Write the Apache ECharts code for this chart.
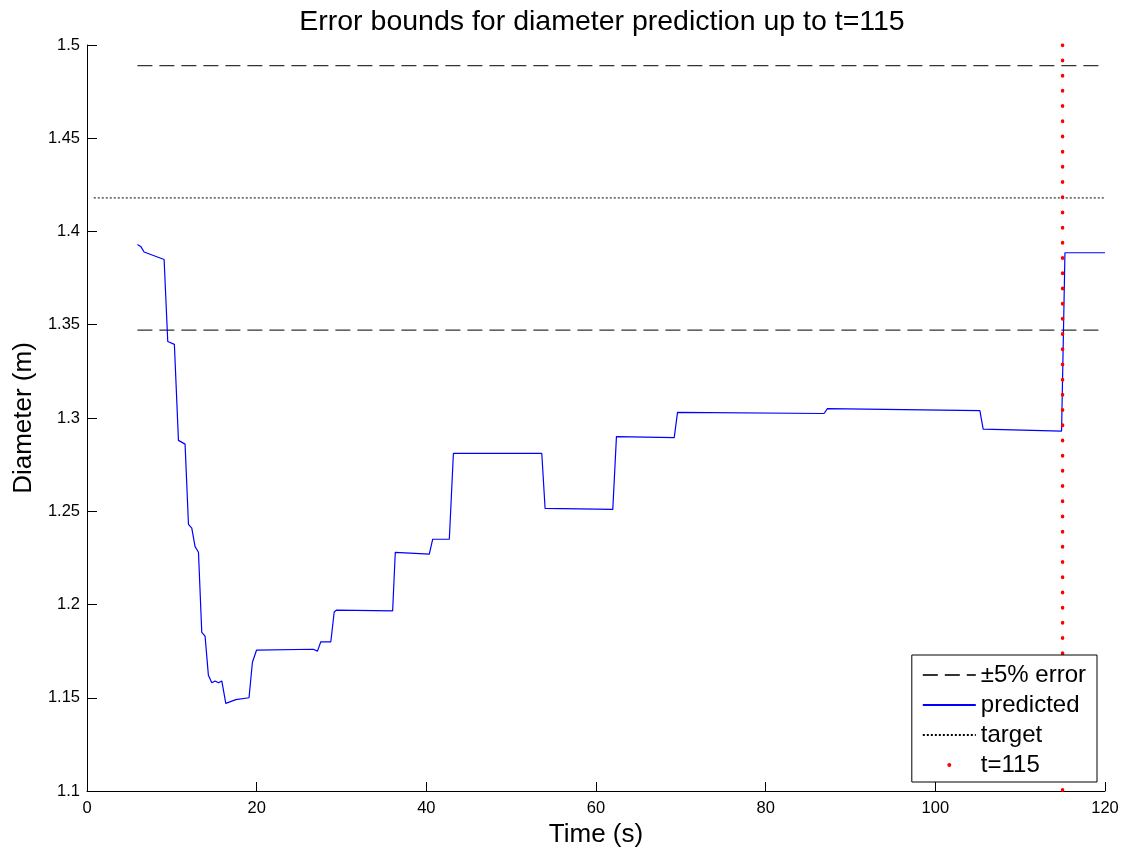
<!DOCTYPE html>
<html>
<head>
<meta charset="utf-8">
<script src="https://cdn.jsdelivr.net/npm/echarts@6/dist/echarts.min.js"></script>
<style>
  html, body { margin: 0; padding: 0; background: #fff; }
  #chart { width: 1125px; height: 854px; }
</style>
</head>
<body>
<div id="chart"></div>
<script>
// Predicted diameter over time (s, m)
const predTime = [5.94, 6.33, 6.73, 9.09, 9.52, 10.3, 10.78, 11.56, 11.96, 12.35, 12.74, 13.14,
  13.53, 13.92, 14.31, 14.71, 15.1, 15.5, 15.89, 16.36, 17.54, 19.1, 19.5, 19.98, 26.67, 27.17,
  27.56, 28.74, 29.14, 29.42, 36.03, 36.34, 40.35, 40.75, 42.71, 43.19, 53.61, 54.0, 61.98, 62.41,
  69.22, 69.61, 86.88, 87.28, 105.25, 105.64, 114.88, 115.28, 120];
const predDiameter = [1.393, 1.392, 1.389, 1.385, 1.341, 1.3395, 1.288, 1.286, 1.243, 1.241, 1.231, 1.228,
  1.185, 1.183, 1.162, 1.158, 1.159, 1.158, 1.159, 1.147, 1.149, 1.150, 1.169, 1.1755, 1.176, 1.175,
  1.180, 1.180, 1.196, 1.197, 1.1966, 1.228, 1.227, 1.235, 1.235, 1.281, 1.281, 1.2515, 1.251, 1.290,
  1.2895, 1.303, 1.3024, 1.305, 1.304, 1.294, 1.293, 1.3886, 1.3886];

// Target diameter and the ±5% band
const targetDiameter = 1.418;
const errorFraction = 0.05;
const boundSpan = [5.94, 120];
const targetSpan = [0.8, 120];
const cutoffTime = 115;

// Axis settings
const xTicks = { min: 0, max: 120, interval: 20 };
const yTicks = { min: 1.1, max: 1.5, interval: 0.05 };

const legendNames = ['±5% error', 'predicted', 'target', 't=115'];
const titleText = 'Error bounds for diameter prediction up to t=115';

const FONT = '"Liberation Sans", Arial, Helvetica, sans-serif';

const upper = targetDiameter * (1 + errorFraction);
const lower = targetDiameter * (1 - errorFraction);
const predData = predTime.map((t, i) => [t, predDiameter[i]]);

const chart = echarts.init(document.getElementById('chart'), null, { renderer: 'canvas' });

const dashStyle = { color: '#333', width: 1.3, type: [15, 7] };
// line-only legend swatches: hide the marker drawn in the middle
const noMarker = { opacity: 0 };

chart.setOption({
  animation: false,
  backgroundColor: '#fff',
  textStyle: { fontFamily: FONT },
  title: {
    text: titleText,
    left: 597,
    top: 3,
    textAlign: 'center',
    textStyle: { fontFamily: FONT, fontSize: 28.5, fontWeight: 'normal', color: '#000' }
  },
  grid: { left: 87, right: 20, top: 45, bottom: 63, containLabel: false },
  xAxis: {
    type: 'value',
    min: xTicks.min, max: xTicks.max, interval: xTicks.interval,
    name: 'Time (s)',
    nameLocation: 'middle',
    nameGap: 25,
    nameTextStyle: { fontFamily: FONT, fontSize: 26, color: '#000' },
    axisLine: { show: true, onZero: false, lineStyle: { color: '#000', width: 1 } },
    axisTick: { show: true, inside: true, length: 9, lineStyle: { color: '#000' } },
    axisLabel: { fontFamily: FONT, fontSize: 16.5, color: '#000', margin: 9 },
    splitLine: { show: false }
  },
  yAxis: {
    type: 'value',
    min: yTicks.min, max: yTicks.max, interval: yTicks.interval,
    name: 'Diameter (m)',
    nameLocation: 'middle',
    nameGap: 44,
    nameTextStyle: { fontFamily: FONT, fontSize: 26, color: '#000' },
    axisLine: { show: true, onZero: false, lineStyle: { color: '#000', width: 1 } },
    axisTick: { show: true, inside: true, length: 10, lineStyle: { color: '#000' } },
    axisLabel: { fontFamily: FONT, fontSize: 16.5, color: '#000', margin: 7 },
    splitLine: { show: false }
  },
  legend: {
    orient: 'vertical',
    right: 28,
    bottom: 72,
    z: 20,
    data: [
      { name: legendNames[0], itemStyle: noMarker },
      { name: legendNames[1], itemStyle: noMarker },
      { name: legendNames[2], itemStyle: noMarker },
      { name: legendNames[3], icon: 'circle' }
    ],
    itemWidth: 53,
    itemHeight: 4,
    itemGap: 6,
    padding: [8, 11, 5, 10],
    backgroundColor: '#fff',
    borderColor: '#000',
    borderWidth: 1,
    borderRadius: 0,
    selectedMode: false,
    textStyle: { fontFamily: FONT, fontSize: 24, color: '#000' }
  },
  series: [
    {
      name: legendNames[0], type: 'line', symbol: 'none', silent: true,
      data: [[boundSpan[0], upper], [boundSpan[1], upper]],
      lineStyle: dashStyle, itemStyle: { color: '#333' }, z: 2
    },
    {
      name: legendNames[0], type: 'line', symbol: 'none', silent: true,
      data: [[boundSpan[0], lower], [boundSpan[1], lower]],
      lineStyle: dashStyle, itemStyle: { color: '#333' }, z: 2
    },
    {
      name: legendNames[1], type: 'line', symbol: 'none', silent: true,
      data: predData,
      lineStyle: { color: '#0000ff', width: 1.2 }, itemStyle: { color: '#0000ff' }, z: 3
    },
    {
      name: legendNames[2], type: 'line', symbol: 'none', silent: true,
      data: [[targetSpan[0], targetDiameter], [targetSpan[1], targetDiameter]],
      lineStyle: { color: '#000', width: 1, type: [2, 2] }, itemStyle: { color: '#000' }, z: 2
    },
    {
      name: legendNames[3], type: 'line', symbol: 'none', silent: true,
      data: [[cutoffTime, yTicks.max], [cutoffTime, yTicks.min]],
      lineStyle: { color: '#ff0000', width: 3.5, type: [0.5, 14.7], cap: 'round' },
      itemStyle: { color: '#ff0000' }, z: 4
    }
  ]
});
</script>
</body>
</html>
